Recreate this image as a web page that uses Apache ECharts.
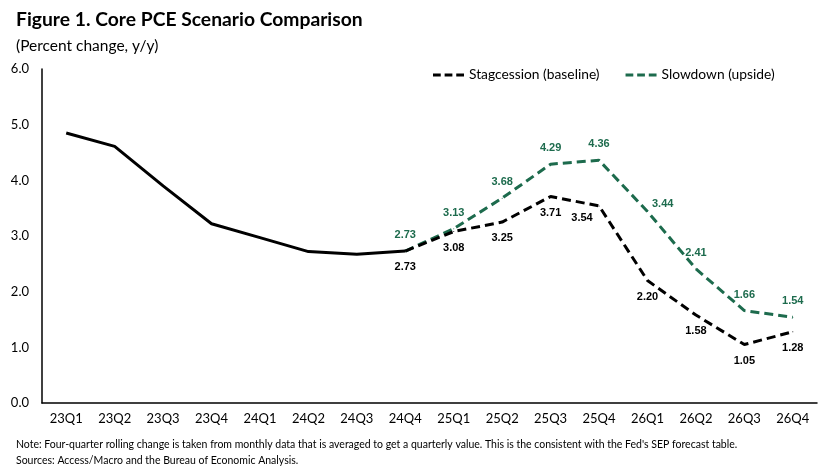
<!DOCTYPE html>
<html>
<head>
<meta charset="utf-8">
<script src="https://cdn.jsdelivr.net/npm/echarts@6/dist/echarts.min.js"></script>
<style>
  html, body { margin: 0; padding: 0; background: #fff; }
  #chart { width: 821px; height: 468px; }
</style>
</head>
<body>
<div id="chart"></div>
<script>
var quarters = ['23Q1', '23Q2', '23Q3', '23Q4', '24Q1', '24Q2', '24Q3', '24Q4',
    '25Q1', '25Q2', '25Q3', '25Q4', '26Q1', '26Q2', '26Q3', '26Q4'];
// actual history, solid black
var actualPce = [4.85, 4.61, 3.90, 3.22, 2.97, 2.72, 2.67, 2.73,
    null, null, null, null, null, null, null, null];
// scenarios start from the last actual quarter
var baseline = [null, null, null, null, null, null, null, 2.73,
    3.08, 3.25, 3.71, 3.54, 2.20, 1.58, 1.05, 1.28];
var upside = [null, null, null, null, null, null, null, 2.73,
    3.13, 3.68, 4.29, 4.36, 3.44, 2.41, 1.66, 1.54];
var yTicks = [0, 1, 2, 3, 4, 5, 6];

var green = '#1d6b4d';
// three short bars, looks like the dashed legend key
var dashIcon = 'path://M0,0 L8,0 L8,3 L0,3 Z M12,0 L20,0 L20,3 L12,3 Z M24,0 L32,0 L32,3 L24,3 Z';
var myChart = echarts.init(document.getElementById('chart'));

function dashedLabel(color, pos) {
    return {
        show: true,
        position: pos,
        distance: 10,
        color: color,
        fontFamily: 'Liberation Sans',
        fontWeight: 'bold',
        fontSize: 11,
        formatter: function(p) {
            return p.value == null ? '' : p.value.toFixed(2);
        }
    };
}

// a couple of labels are nudged off the line in the original
var baselineData = baseline.map(function(v, i) {
    if (i === 11) {
        return { value: v, label: { offset: [-17, -4] } };
    }
    return v;
});
var upsideData = upside.map(function(v, i) {
    if (i === 12) {
        return { value: v, label: { position: 'right', distance: 4, offset: [0, -8] } };
    }
    return v;
});

option = {
    animation: false,
    textStyle: { fontFamily: 'Lato' },
    title: [{
        text: 'Figure 1. Core PCE Scenario Comparison',
        left: 11,
        top: 5,
        textStyle: { fontFamily: 'Lato', fontWeight: 'bold', fontSize: 19.3, color: '#000' }
    }, {
        text: '(Percent change, y/y)',
        left: 11,
        top: 33,
        textStyle: { fontFamily: 'Lato', fontWeight: 'normal', fontSize: 15.5, color: '#000' }
    }, {
        text: "Note: Four-quarter rolling change is taken from monthly data that is averaged to get a quarterly value. This is the consistent with the Fed's SEP forecast table.\nSources: Access/Macro and the Bureau of Economic Analysis.",
        left: 11,
        top: 432,
        textStyle: { fontFamily: 'Lato', fontWeight: 'normal', fontSize: 10.5, color: '#000', lineHeight: 16 }
    }],
    legend: {
        data: [
            { name: 'Stagcession (baseline)', icon: dashIcon },
            { name: 'Slowdown (upside)', icon: dashIcon }
        ],
        top: 63,
        left: 428,
        itemWidth: 31,
        itemHeight: 3,
        itemGap: 26,
        textStyle: { fontFamily: 'Lato', fontSize: 13.8, color: '#000' }
    },
    grid: {
        left: 42,
        right: 4,
        top: 69,
        bottom: 65
    },
    xAxis: {
        type: 'category',
        data: quarters,
        axisLine: { lineStyle: { color: '#000', width: 1.5 } },
        axisTick: { show: false },
        axisLabel: { color: '#000', fontFamily: 'Lato', fontSize: 13, margin: 9 }
    },
    yAxis: {
        type: 'value',
        min: yTicks[0],
        max: yTicks[yTicks.length - 1],
        interval: 1,
        axisLine: { show: true, lineStyle: { color: '#000', width: 1.5 } },
        axisTick: { show: false },
        splitLine: { show: false },
        axisLabel: {
            color: '#000', fontFamily: 'Lato', fontSize: 13, margin: 13,
            formatter: function(v) { return v.toFixed(1); }
        }
    },
    series: [{
        name: 'Core PCE',
        type: 'line',
        data: actualPce,
        showSymbol: false,
        lineStyle: { color: '#000', width: 3 },
        itemStyle: { color: '#000' },
        z: 3
    }, {
        name: 'Stagcession (baseline)',
        type: 'line',
        data: baselineData,
        symbol: 'circle',
        symbolSize: 1,
        lineStyle: { color: '#000', width: 3, type: [9, 5] },
        itemStyle: { color: '#000' },
        label: dashedLabel('#000', 'bottom'),
        z: 2
    }, {
        name: 'Slowdown (upside)',
        type: 'line',
        data: upsideData,
        symbol: 'circle',
        symbolSize: 1,
        lineStyle: { color: green, width: 3, type: [9, 5] },
        itemStyle: { color: green },
        label: dashedLabel(green, 'top'),
        z: 1
    }]
};
myChart.setOption(option);
</script>
</body>
</html>
